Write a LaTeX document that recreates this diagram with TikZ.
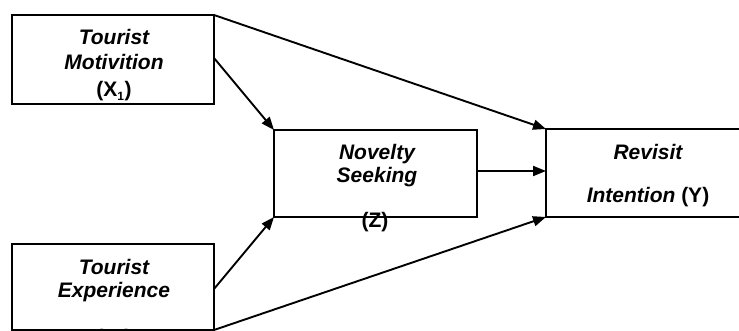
\documentclass[tikz,border=0pt]{standalone}
\usepackage{fontspec}
\setmainfont{Liberation Sans}
\usetikzlibrary{arrows.meta}
\begin{document}
\begin{tikzpicture}[x=1pt,y=-1pt,
  boxline/.style={line width=2.2pt},
  link/.style={line width=1.9pt,-{Stealth[length=13pt,width=10pt,inset=0pt]}},
  lbl/.style={anchor=base,inner sep=0pt,font=\fontsize{21}{24}\selectfont\bfseries}]
\clip (0,0) rectangle (739,331);
% boxes
\coordinate (m1) at (12,15);   \coordinate (m2) at (214,104);
\coordinate (e1) at (12,244);  \coordinate (e2) at (214,330);
\coordinate (n1) at (274,130); \coordinate (n2) at (477,217);
\coordinate (r1) at (546,129); \coordinate (r2) at (760,217);
\draw[boxline] (m1) rectangle (m2);
\draw[boxline] (e1) rectangle (e2);
\draw[boxline] (n1) rectangle (n2);
\draw[boxline] (r1) rectangle (r2);
% labels
\node[lbl] (mA) at (114,45) {\itshape Tourist};
\node[lbl] (mB) at (114,70) {\itshape Motivition};
\node[lbl] (mC) at (114,97) {(X\textsubscript{\fontsize{12}{12}\selectfont 1})};
\node[lbl] (eA) at (114,274) {\itshape Tourist};
\node[lbl] (eB) at (114,298) {\itshape Experience};
\node[lbl] (eC) at (114,344) {(X\textsubscript{\fontsize{12}{12}\selectfont 2})};
\node[lbl] (nA) at (377,160) {\itshape Novelty};
\node[lbl] (nB) at (377,183) {\itshape Seeking};
\node[lbl] (nC) at (375,228) {(Z)};
\node[lbl] (rA) at (648,160) {\itshape Revisit};
\node[lbl] (rB) at (648,203) {\itshape Intention \upshape(Y)};
% connector anchors
\coordinate (mtr) at (214,15);
\coordinate (mr) at (214,58);
\coordinate (er) at (214,289);
\coordinate (ebr) at (214,330);
\coordinate (nbl) at (274,217);
\coordinate (nr) at (477,171);
\coordinate (rl) at (546,171);
\coordinate (rbl) at (546,217);
% connectors
\draw[link] (mtr) -- (r1);
\draw[link] (mr) -- (n1);
\draw[link] (er) -- (nbl);
\draw[link] (ebr) -- (rbl);
\draw[link] (nr) -- (rl);
\end{tikzpicture}
\end{document}
